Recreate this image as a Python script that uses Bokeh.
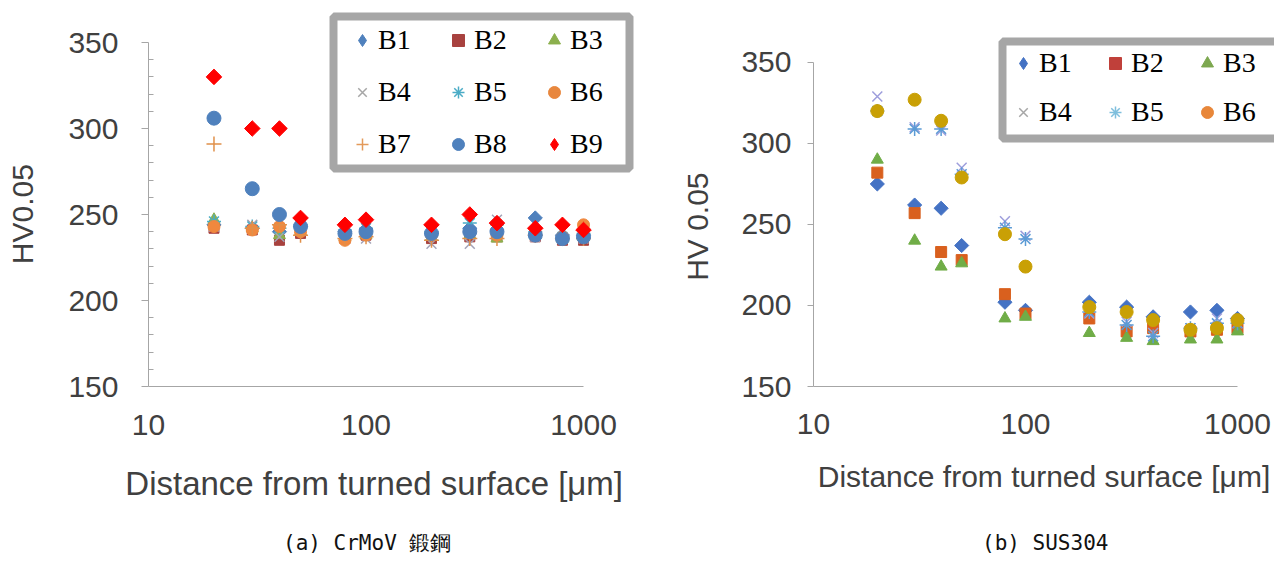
import numpy as np
from bokeh.plotting import figure
from bokeh.models import (FixedTicker, PrintfTickFormatter, Legend, LegendItem,
                          Range1d, BoxAnnotation, Div)
from bokeh.layouts import row, column
from bokeh.embed import file_html
from bokeh.resources import INLINE

# ---------------- data ----------------
depth = [20, 30, 40, 50, 80, 100, 200, 300, 400, 600, 800, 1000]

# (a) CrMoV forged steel
a_B1 = [244, 242, 240, 243, 240, 241, 239, 242, 241, 248, 238, 238]
a_B2 = [242, 241, 235, 239, 236, 238, 236, 237, 237, 237, 235, 235]
a_B3 = [247, 242, 238, 240, 237, 238, 237, 238, 236, 238, 236, 237]
a_B4 = [243, 244, 237, 241, 238, 236, 233, 233, 247, 237, 236, 236]
a_B5 = [246, 243, 242, 244, 241, 242, 240, 245, 244, 240, 237, 239]
a_B6 = [243, 241, 243, 240, 235, 238, 238, 240, 238, 239, 237, 244]
a_B7 = [291, 242, 244, 238, 236, 237, 235, 236, 236, 238, 236, 236]
a_B8 = [306, 265, 250, 243, 239, 240, 239, 240, 240, 238, 236, 237]
a_B9 = [330, 300, 300, 248, 244, 247, 244, 250, 245, 242, 244, 241]

# (b) SUS304
b_B1 = [275, 262, 260, 237, 202, 197, 202, 199, 193, 196, 197, 192]
b_B2 = [282, 257, 233, 228, 207, 195, 192, 184, 186, 184, 185, 186]
b_B3 = [290, 240, 224, 226, 192, 193, 183, 180, 178, 179, 179, 184]
b_B4 = [329, 310, 308, 285, 252, 243, 195, 190, 183, 186, 192, 189]
b_B5 = [320, 309, 309, 281, 248, 241, 196, 188, 181, 186, 189, 189]
b_B6 = [320, 327, 314, 279, 244, 224, 199, 196, 191, 185, 186, 191]

series_names_a = ["B1", "B2", "B3", "B4", "B5", "B6", "B7", "B8", "B9"]
series_names_b = ["B1", "B2", "B3", "B4", "B5", "B6"]
y_ticks = [150, 200, 250, 300, 350]
y_minor = [v for v in range(150, 351, 10) if v % 50 != 0]
x_ticks = [10, 100, 1000]

x_title = "Distance from turned surface [μm]"
y_title_a = "HV0.05"
y_title_b = "HV 0.05"
caption_a = "(a) CrMoV 鍛鋼"
caption_b = "(b) SUS304"

NB = "\u00a0"  # non-breaking space used to nudge centred axis titles

# ---------------- styles ----------------
# data marks: marker, size, colour, angle, outline-only
style_a = {
    "B1": ("square", 10, "#4F81BD", np.pi / 4, False),
    "B2": ("square", 10, "#A8423F", 0, False),
    "B3": ("triangle", 12, "#8CB04E", 0, False),
    "B4": ("x", 14, "#A3A3B8", 0, True),
    "B5": ("asterisk", 14, "#4BACC6", 0, True),
    "B6": ("circle", 12, "#F0883E", 0, False),
    "B7": ("cross", 15, "#E0904A", 0, True),
    "B8": ("circle", 14, "#4F81BD", 0, False),
    "B9": ("square", 11, "#FF0000", np.pi / 4, False),
}
style_b = {
    "B1": ("square", 10, "#4472C4", np.pi / 4, False),
    "B2": ("square", 11, "#D9601E", 0, False),
    "B3": ("triangle", 12, "#70AD47", 0, False),
    "B4": ("x", 14, "#9E9EDC", 0, True),
    "B5": ("asterisk", 14, "#5B9BD5", 0, True),
    "B6": ("circle", 13, "#C9A005", 0, False),
}
# legend keys: marker, colour, outline-only
legend_a = {
    "B1": ("diamond", "#4F81BD", False), "B2": ("square", "#A8423F", False),
    "B3": ("triangle", "#8CB04E", False), "B4": ("x", "#A6A6A6", True),
    "B5": ("asterisk", "#4BACC6", True), "B6": ("circle", "#E8873E", False),
    "B7": ("cross", "#E39A5A", True), "B8": ("circle", "#4F81BD", False),
    "B9": ("diamond", "#FF0000", False),
}
legend_b = {
    "B1": ("diamond", "#4472C4", False), "B2": ("square", "#C0403A", False),
    "B3": ("triangle", "#7DA850", False), "B4": ("x", "#A6A6A6", True),
    "B5": ("asterisk", "#7FBFDD", True), "B6": ("circle", "#E8873A", False),
}

AXIS_FONT = "Liberation Sans"
LEG_FONT = "Liberation Serif"
TXT = "#404040"
PLOT_H = 519


def make_panel(width, xr, yr, left, right, xlabel, ylabel, data, names, style, lstyle,
               label_size):
    p = figure(width=width, height=PLOT_H, x_axis_type="log",
               x_range=Range1d(*xr), y_range=Range1d(*yr),
               output_backend="svg", toolbar_location=None,
               min_border_left=left, min_border_right=right,
               min_border_top=8, min_border_bottom=PLOT_H - 386)
    p.outline_line_color = None
    p.grid.visible = False
    p.background_fill_color = "white"
    p.border_fill_color = "white"
    for name, vals in zip(names, data):
        mk, sz, col, ang, line_only = style[name]
        p.scatter(depth, vals, marker=mk, size=sz, angle=ang, line_color=col,
                  fill_color=None if line_only else col,
                  line_width=1.5 if line_only else 1)
    # legend keys (draw nothing in the plot area)
    keys = []
    for name in names:
        mk, col, line_only = lstyle[name]
        k = p.scatter([np.nan], [np.nan], marker=mk, line_color=col,
                      fill_color=None if line_only else col,
                      line_width=1.5 if line_only else 1)
        keys.append(k)
    p.xaxis.ticker = FixedTicker(ticks=x_ticks)
    p.xaxis.formatter = PrintfTickFormatter(format="%d")
    p.xaxis.axis_label = xlabel
    p.yaxis.axis_label = ylabel
    p.yaxis.bounds = (150, 350)
    p.xaxis.bounds = (10, 1000)
    for ax in (p.xaxis[0], p.yaxis[0]):
        ax.axis_line_color = "#A6A6A6"
        ax.major_tick_line_color = "#A6A6A6"
        ax.minor_tick_line_color = "#A6A6A6"
        ax.major_label_text_font = AXIS_FONT
        ax.major_label_text_font_size = "30px"
        ax.major_label_text_color = TXT
        ax.axis_label_text_font = AXIS_FONT
        ax.axis_label_text_font_size = label_size
        ax.axis_label_text_font_style = "normal"
        ax.axis_label_text_color = TXT
    p.yaxis.axis_label_text_font_size = "30px"
    p.xaxis.major_tick_out = 0
    p.xaxis.major_tick_in = 0
    p.xaxis.minor_tick_out = 0
    p.xaxis.minor_tick_in = 0
    return p, keys


def legend_frame(left, right, top, bottom):
    return BoxAnnotation(left=left, right=right, top=top, bottom=bottom,
                         left_units="screen", right_units="screen",
                         top_units="screen", bottom_units="screen",
                         fill_color="white", fill_alpha=1,
                         line_color="#A6A6A6", line_width=8, line_alpha=1)


def caption(text, width, pad_left):
    html = ('<div style="padding-left:%dpx;padding-top:11px;font-family:\'DejaVu Sans Mono\';'
            'font-size:21px;white-space:pre;color:#111111;line-height:26px">%s</div>'
            % (pad_left, text))
    return Div(text=html, width=width, height=569 - PLOT_H, margin=0)


# ---------------- panel (a) ----------------
pa, ka = make_panel(660, (10, 1752), (150, 369.77), 148, 24,
                    x_title + NB * 4, y_title_a + NB * 4,
                    [a_B1, a_B2, a_B3, a_B4, a_B5, a_B6, a_B7, a_B8, a_B9],
                    series_names_a, style_a, legend_a, "33px")
pa.yaxis.ticker = FixedTicker(ticks=y_ticks, minor_ticks=y_minor)
pa.yaxis.major_tick_out = 7
pa.yaxis.major_tick_in = 0
pa.yaxis.minor_tick_out = 0
pa.yaxis.minor_tick_in = 5
pa.yaxis.major_label_standoff = 23
pa.yaxis.axis_label_standoff = 26
pa.xaxis.major_label_standoff = 28
pa.xaxis.axis_label_standoff = 27

pa.add_layout(legend_frame(185, 481, 370, 218))
leg_a = Legend(items=[LegendItem(label=n, renderers=[k]) for n, k in zip(series_names_a, ka)],
               location=(199, 226), orientation="horizontal", ncols=3,
               label_text_font=LEG_FONT, label_text_font_size="28px", label_text_color="#000000",
               glyph_width=30, glyph_height=30, label_standoff=1, label_width=45,
               spacing=20, padding=0, margin=0,
               border_line_color=None, background_fill_alpha=0)
pa.add_layout(leg_a)

# ---------------- panel (b) ----------------
pb, kb = make_panel(614, (10, 1495), (150, 383.3), 153, 0,
                    x_title, y_title_b + NB * 7,
                    [b_B1, b_B2, b_B3, b_B4, b_B5, b_B6],
                    series_names_b, style_b, legend_b, "30px")
pb.yaxis.ticker = FixedTicker(ticks=y_ticks)
pb.yaxis.major_tick_out = 6
pb.yaxis.major_tick_in = 0
pb.yaxis.minor_tick_out = 0
pb.yaxis.minor_tick_in = 0
pb.yaxis.major_label_standoff = 16
pb.yaxis.axis_label_standoff = 24
pb.xaxis.major_label_standoff = 27
pb.xaxis.axis_label_standoff = 23

pb.add_layout(legend_frame(189, 480, 345, 248))
leg_b = Legend(items=[LegendItem(label=n, renderers=[k]) for n, k in zip(series_names_b, kb)],
               location=(195, 258), orientation="horizontal", ncols=3,
               label_text_font=LEG_FONT, label_text_font_size="28px", label_text_color="#000000",
               glyph_width=30, glyph_height=30, label_standoff=1, label_width=44,
               spacing=17, padding=0, margin=0,
               border_line_color=None, background_fill_alpha=0)
pb.add_layout(leg_b)

layout = column(row(pa, pb), row(caption(caption_a, 660, 283), caption(caption_b, 614, 322)))
open("out.html", "w").write(file_html(layout, INLINE))
